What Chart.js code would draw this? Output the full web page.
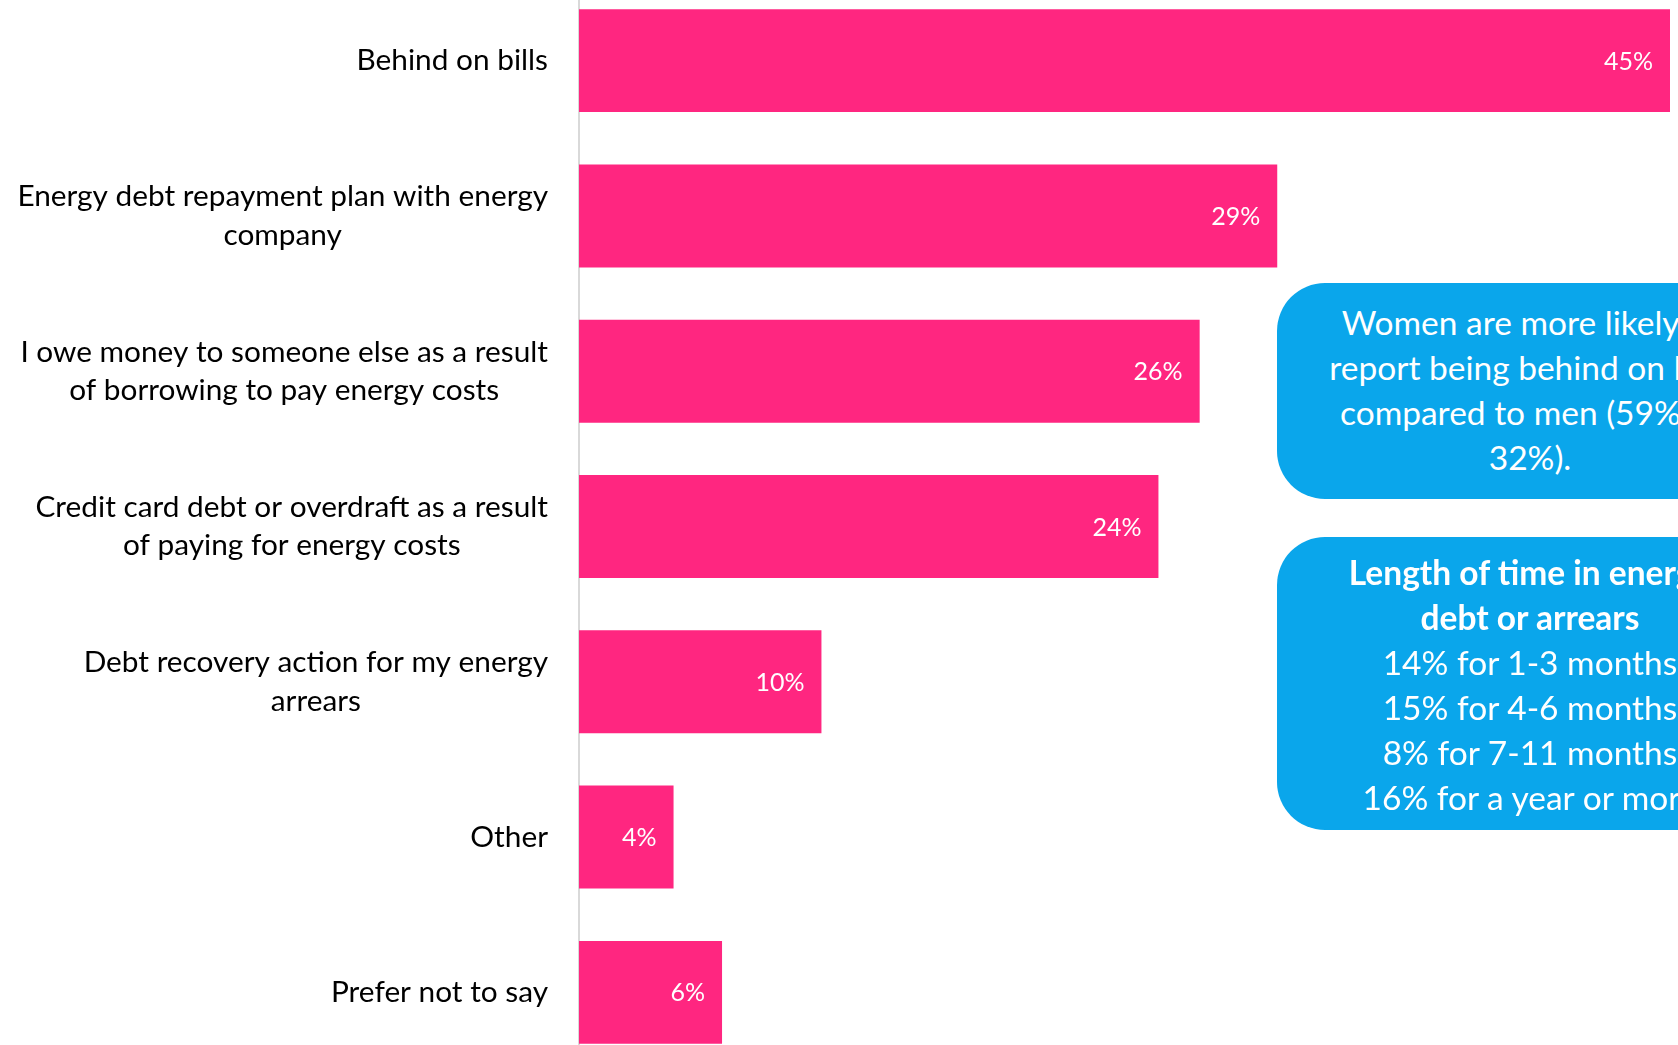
<!DOCTYPE html>
<html>
<head>
<meta charset="utf-8">
<script src="https://cdn.jsdelivr.net/npm/chart.js@4/dist/chart.umd.min.js"></script>
<style>
  html, body { margin: 0; padding: 0; background: #ffffff; }
  body { width: 1678px; height: 1045px; overflow: hidden; position: relative; font-family: Lato, sans-serif; }
  #wrap { position: absolute; left: 0; top: -17px; width: 1678px; height: 1087px; }
  .callout {
    position: absolute; left: 1277px; width: 506px;
    background: #0AA6EB; color: #ffffff; border-radius: 48px;
    text-align: center; font-size: 33.5px; line-height: 45px;
    box-sizing: border-box; white-space: nowrap;
  }
  #box1 { top: 283px; height: 216px; padding-top: 17px; }
  #box2 { top: 537px; height: 293px; padding-top: 13px; }
  #box2 b { font-weight: 700; }
</style>
</head>
<body>
<div id="wrap"><canvas id="chart"></canvas></div>
<div class="callout" id="box1">Women are more likely to<br>report being behind on bills<br>compared to men (59% vs<br>32%).</div>
<div class="callout" id="box2"><b>Length of time in energy<br>debt or arrears</b><br>14% for 1-3 months<br>15% for 4-6 months<br>8% for 7-11 months<br>16% for a year or more</div>

<script>
// categories (top to bottom) and share of respondents, %
const categories = [
  "Behind on bills",
  ["Energy debt repayment plan with energy", "company"],
  ["I owe money to someone else as a result", "of borrowing to pay energy costs"],
  ["Credit card debt or overdraft as a result", "of paying for energy costs"],
  ["Debt recovery action for my energy", "arrears"],
  "Other",
  "Prefer not to say"
];
const values = [45, 28.8, 25.6, 23.9, 10, 3.9, 5.9];

const barColor = "#FF2680";

// draws category labels right-aligned as a block, each line centred in it
const categoryLabels = {
  id: "categoryLabels",
  afterDraw(chart) {
    const ctx = chart.ctx;
    const scale = chart.scales.y;
    const pad = 31;
    const lineH = 38.5;
    ctx.save();
    ctx.font = "29.8px Lato";
    ctx.fillStyle = "#000000";
    ctx.textAlign = "center";
    ctx.textBaseline = "middle";
    categories.forEach((lab, i) => {
      const lines = Array.isArray(lab) ? lab : [lab];
      const w = Math.max(...lines.map(l => ctx.measureText(l).width));
      const cx = scale.right - pad - w / 2;
      const cy = scale.getPixelForTick(i);
      const y0 = cy - (lines.length - 1) * lineH / 2;
      lines.forEach((l, j) => ctx.fillText(l, cx, y0 + j * lineH));
    });
    ctx.restore();
  }
};

// value labels inside the bar ends
const valueLabels = {
  id: "valueLabels",
  afterDatasetsDraw(chart) {
    const ctx = chart.ctx;
    const meta = chart.getDatasetMeta(0);
    ctx.save();
    ctx.font = "25px Lato";
    ctx.fillStyle = "#ffffff";
    ctx.textAlign = "right";
    ctx.textBaseline = "middle";
    meta.data.forEach((bar, i) => {
      ctx.fillText(Math.round(values[i]) + "%", bar.x - 17, bar.y + 1);
    });
    ctx.restore();
  }
};

new Chart(document.getElementById("chart"), {
  type: "bar",
  data: {
    labels: categories,
    datasets: [{
      data: values,
      backgroundColor: barColor,
      borderWidth: 0,
      categoryPercentage: 1,
      barPercentage: 0.663
    }]
  },
  options: {
    indexAxis: "y",
    responsive: true,
    maintainAspectRatio: false,
    animation: false,
    layout: { padding: 0 },
    plugins: {
      legend: { display: false },
      tooltip: { enabled: false }
    },
    scales: {
      x: {
        display: false,
        min: 0,
        max: 45.33
      },
      y: {
        afterFit(scale) { scale.width = 579; },
        grid: { display: false, drawTicks: false },
        border: { display: true, color: "#D9D9D9", width: 2 },
        ticks: { display: false }
      }
    }
  },
  plugins: [categoryLabels, valueLabels]
});
</script>
</body>
</html>
